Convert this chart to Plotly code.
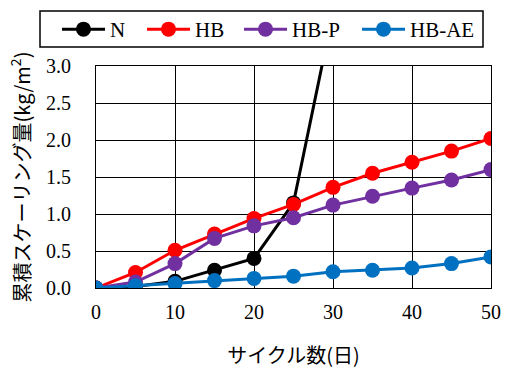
import plotly.graph_objects as go

# Cycle count (days)
cycles = [0, 5, 10, 15, 20, 25, 30, 35, 40, 45, 50]

# Cumulative scaling (kg/m2) per mix
n_cycles = [0, 5, 10, 15, 20, 25, 30]
n_vals = [0.00, 0.02, 0.09, 0.24, 0.40, 1.15, 3.72]
hb_vals = [0.00, 0.21, 0.51, 0.73, 0.94, 1.13, 1.36, 1.55, 1.70, 1.85, 2.02]
hbp_vals = [0.00, 0.08, 0.33, 0.67, 0.84, 0.95, 1.12, 1.24, 1.35, 1.46, 1.60]
hbae_vals = [0.00, 0.03, 0.06, 0.10, 0.13, 0.16, 0.22, 0.24, 0.27, 0.33, 0.42]

series = [
    ("N", n_cycles, n_vals, "#000000"),
    ("HB", cycles, hb_vals, "#ff0000"),
    ("HB-P", cycles, hbp_vals, "#7030a0"),
    ("HB-AE", cycles, hbae_vals, "#0070c0"),
]

SERIF = "Liberation Serif"
JP = "Noto Sans CJK JP"

W, H = 505, 369
ML, MR, MT, MB = 96, 14, 66, 81
PW, PH = W - ML - MR, H - MT - MB


def px_x(p):
    """Pixel column -> paper x."""
    return (p - ML) / PW


def px_y(p):
    """Pixel row -> paper y."""
    return (H - MB - p) / PH


# left edge (px) of each legend entry in the top key row
entry_left = [57, 142, 239, 357]
legend_ids = ["legend", "legend2", "legend3", "legend4"]

fig = go.Figure()
for (name, xs, ys, color), lid in zip(series, legend_ids):
    fig.add_trace(go.Scatter(
        x=xs, y=ys, name=name, mode="lines+markers",
        line=dict(color=color, width=3),
        marker=dict(color=color, size=15),
        legend=lid,
    ))

# frame around the key row
fig.add_shape(type="rect", xref="paper", yref="paper",
              x0=px_x(40), x1=px_x(483), y0=px_y(47), y1=px_y(11),
              line=dict(color="black", width=1.5), fillcolor="white",
              layer="above")

legend_style = dict(
    orientation="h", xanchor="left", yanchor="top", y=px_y(9),
    borderwidth=0, bgcolor="rgba(0,0,0,0)",
    font=dict(family=SERIF, size=21, color="black"),
    itemwidth=43,
)
for lid, left in zip(legend_ids, entry_left):
    fig.update_layout({lid: dict(legend_style, x=px_x(left))})

fig.update_layout(
    width=W, height=H,
    margin=dict(l=ML, r=MR, t=MT, b=MB, autoexpand=False),
    paper_bgcolor="white", plot_bgcolor="white",
    font=dict(family=SERIF, size=20, color="black"),
    showlegend=True,
    xaxis=dict(
        range=[0, 50], tickvals=[0, 10, 20, 30, 40, 50],
        showgrid=True, gridcolor="black", gridwidth=1,
        showline=True, linecolor="black", linewidth=1, mirror=True,
        zeroline=False, ticks="", ticklabelstandoff=6, automargin=False,
        tickfont=dict(family=SERIF, size=20, color="black"),
        title=dict(text="サイクル数(日)",
                   font=dict(family=JP, size=20, color="black"), standoff=26),
    ),
    yaxis=dict(
        range=[0, 3.0], tickvals=[0, 0.5, 1.0, 1.5, 2.0, 2.5, 3.0],
        tickformat=".1f",
        showgrid=True, gridcolor="black", gridwidth=1,
        showline=True, linecolor="black", linewidth=1, mirror=True,
        zeroline=False, ticks="", ticklabelstandoff=20, automargin=False,
        tickfont=dict(family=SERIF, size=20, color="black"),
        title=dict(text="累積スケーリング量(kg/m<sup>2</sup>)",
                   font=dict(family=JP, size=20, color="black"), standoff=10),
    ),
)

fig.write_html("out.html")
